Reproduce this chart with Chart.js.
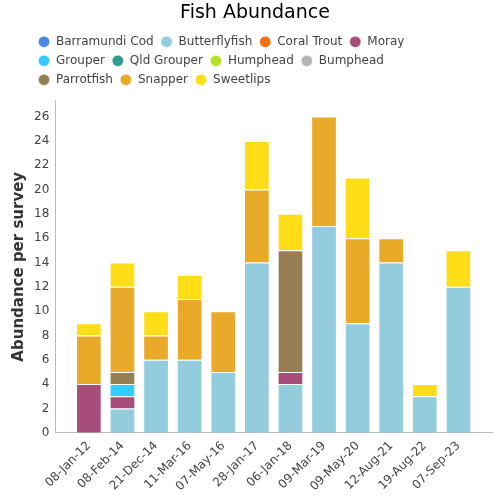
<!DOCTYPE html>
<html>
<head>
<meta charset="utf-8">
<script src="https://cdn.jsdelivr.net/npm/chart.js@4"></script>
<style>
  html, body { margin: 0; padding: 0; background: #fff; }
  #wrap { width: 500px; height: 500px; }
</style>
</head>
<body>
<div id="wrap"><canvas id="chart"></canvas></div>
<script>
const surveyDates = ["08-Jan-12", "08-Feb-14", "21-Dec-14", "11-Mar-16", "07-May-16", "28-Jan-17",
  "06-Jan-18", "09-Mar-19", "09-May-20", "12-Aug-21", "19-Aug-22", "07-Sep-23"];

const fishNames = ["Barramundi Cod", "Butterflyfish", "Coral Trout", "Moray", "Grouper", "Qld Grouper",
  "Humphead", "Bumphead", "Parrotfish", "Snapper", "Sweetlips"];

const barramundiCod = [0, 0, 0, 0, 0, 0, 0, 0, 0, 0, 0, 0];
const butterflyfish = [0, 2, 6, 6, 5, 14, 4, 17, 9, 14, 3, 12];
const coralTrout    = [0, 0, 0, 0, 0, 0, 0, 0, 0, 0, 0, 0];
const moray         = [4, 1, 0, 0, 0, 0, 1, 0, 0, 0, 0, 0];
const grouper       = [0, 1, 0, 0, 0, 0, 0, 0, 0, 0, 0, 0];
const qldGrouper    = [0, 0, 0, 0, 0, 0, 0, 0, 0, 0, 0, 0];
const humphead      = [0, 0, 0, 0, 0, 0, 0, 0, 0, 0, 0, 0];
const bumphead      = [0, 0, 0, 0, 0, 0, 0, 0, 0, 0, 0, 0];
const parrotfish    = [0, 1, 0, 0, 0, 0, 10, 0, 0, 0, 0, 0];
const snapper       = [4, 7, 2, 5, 5, 6, 0, 9, 7, 2, 0, 0];
const sweetlips     = [1, 2, 2, 2, 0, 4, 3, 0, 5, 0, 1, 3];

const yTicks = [0, 2, 4, 6, 8, 10, 12, 14, 16, 18, 20, 22, 24, 26];

const fishValues = [barramundiCod, butterflyfish, coralTrout, moray, grouper, qldGrouper,
  humphead, bumphead, parrotfish, snapper, sweetlips];

const fishColors = ["#4a89dc", "#93cddd", "#f5700f", "#a64d79", "#33ccff", "#339a92",
  "#b5e02b", "#b5b5b5", "#968053", "#e8aa28", "#ffdd17"];

// the original axis leaves one empty slot at each end, so pad with blanks
const labels = ["", ...surveyDates, ""];

const datasets = [];
for (let i = 0; i < fishNames.length; i++) {
  datasets.push({
    label: fishNames[i],
    data: [null, ...fishValues[i], null],
    backgroundColor: fishColors[i],
    borderColor: "rgba(255,255,255,0.45)",
    borderWidth: 1,
    pointStyle: "circle",
    categoryPercentage: 0.85,
    barPercentage: 0.9,
  });
}

const font = "'DejaVu Sans', sans-serif";

// the original legend starts further in and wraps before the right edge
const legendBox = {
  id: "legendBox",
  afterLayout(chart) {
    const lg = chart.legend;
    if (!lg) return;
    lg.left += 21;
    lg.right -= 50;
  },
};

const chart = new Chart(document.getElementById("chart"), {
  type: "bar",
  data: { labels: labels, datasets: datasets },
  plugins: [legendBox],
  options: {
    responsive: true,
    maintainAspectRatio: false,
    animation: false,
    layout: { padding: { left: 10, right: 0, top: 2, bottom: 0 } },
    plugins: {
      title: {
        display: true,
        text: "Fish Abundance",
        color: "#000",
        font: { family: font, size: 19, weight: "normal" },
        padding: { top: 0, bottom: 4 },
      },
      legend: {
        align: "start",
        labels: {
          usePointStyle: true,
          boxWidth: 12,
          boxHeight: 8,
          padding: 7,
          color: "#444",
          font: { family: font, size: 12 },
        },
      },
      tooltip: { enabled: false },
    },
    scales: {
      x: {
        stacked: true,
        offset: false,
        grid: { display: false, drawTicks: false },
        border: { color: "#bbb" },
        afterFit: (axis) => {
          axis.paddingRight = 8;
        },
        ticks: {
          color: "#444",
          padding: 6,
          autoSkip: false,
          font: { family: font, size: 12 },
          maxRotation: 45,
          minRotation: 45,
        },
      },
      y: {
        stacked: true,
        min: 0,
        max: 27.3,
        grid: { display: false, drawTicks: false },
        border: { color: "#bbb" },
        afterBuildTicks: (axis) => {
          axis.ticks = yTicks.map((v) => ({ value: v }));
        },
        ticks: {
          color: "#444",
          padding: 6,
          font: { family: font, size: 12 },
        },
        title: {
          display: true,
          text: "Abundance per survey",
          color: "#333",
          padding: { top: 0, bottom: 0 },
          font: { family: font, size: 15, weight: "bold" },
        },
      },
    },
  },
});

// fit the legend height to the narrower rows too
const lg = chart.legend;
const origFit = lg.fit.bind(lg);
lg.fit = function () {
  const mw = this.maxWidth;
  this.maxWidth = mw - 73;
  origFit();
  this.maxWidth = mw;
  this.width = mw;
  this.height += 5;
};
chart.update();
</script>
</body>
</html>
